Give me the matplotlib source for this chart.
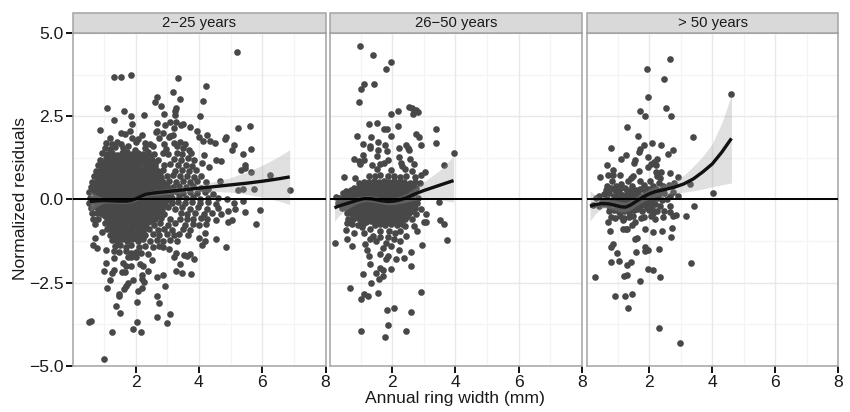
import matplotlib
matplotlib.use("Agg")
import matplotlib.pyplot as plt
from matplotlib.patches import Rectangle
import numpy as np

plt.rcParams["font.family"] = ["Liberation Sans", "DejaVu Sans"]

# ---------- Panel labels / ticks ----------
panel_titles = ["2\u221225 years", "26\u221250 years", "> 50 years"]
x_ticks = [2, 4, 6, 8]
x_minor = [1, 3, 5, 7]
y_ticks = [-5.0, -2.5, 0.0, 2.5, 5.0]
y_tick_labels = ["\u22125.0", "\u22122.5", "0.0", "2.5", "5.0"]
y_minor = [-3.75, -1.25, 1.25, 3.75]

# ---------- 2-25 years: points ----------
young_outer = [
    (5.21,4.45),(1.31,3.70),(1.54,3.68),(1.85,3.76),(3.35,3.67),(4.23,3.42),(3.19,3.24),(2.66,3.08),
    (3.41,3.03),(2.62,2.93),(4.14,2.97),(2.79,2.81),(1.08,2.76),(3.28,2.76),(1.63,2.66),(3.25,2.66),
    (2.90,2.58),(1.85,2.51),(2.25,2.54),(3.25,2.54),(4.02,2.50),(1.32,2.38),(1.89,2.28),(2.69,2.29),
    (3.09,2.34),(3.27,2.34),(2.93,2.24),(3.50,2.28),(3.44,2.24),(3.20,2.14),(3.72,2.17),(5.25,2.14),
    (5.62,2.20),(0.88,2.08),(1.83,2.06),(2.67,2.06),(2.63,2.02),(2.88,2.01),(3.95,2.06),(1.55,1.99),
    (1.66,1.97),(2.19,1.93),(3.09,1.91),(3.18,1.93),(3.04,1.87),(2.73,1.85),(4.26,1.93),(3.99,1.87),
    (4.84,1.88),(1.20,1.85),(1.88,1.85),(2.09,1.81),(4.13,1.77),(4.34,1.77),(4.50,1.71),(4.82,1.83),
    (5.11,1.64),(5.64,1.53),(5.05,1.49),(5.39,1.38),(4.17,1.33),(4.55,1.20),(4.70,1.16),(4.11,1.10),
    (4.33,0.98),(5.45,1.03),(5.47,0.95),(5.34,0.88),(5.66,0.82),(6.24,0.73),(4.65,0.55),(6.87,0.28),
    (5.75,0.32),(5.40,0.32),(5.24,0.28),(5.94,-0.33),(5.79,-0.74),(5.47,-0.37),(5.39,-0.05),(5.05,-0.63),
    (4.92,-0.68),(4.92,-0.35),(4.71,-0.45),(4.55,-0.62),(4.54,-1.18),(4.85,-1.43),(4.19,-1.02),(4.19,-1.24),
    (4.11,-1.38),(4.00,-1.17),(3.84,-1.78),(3.73,-1.63),(3.63,-1.71),(3.54,-1.67),(3.28,-1.61),(3.21,-1.73),
    (3.41,-1.95),(3.29,-2.14),(3.45,-2.22),(3.75,-2.25),(2.51,-1.83),(2.38,-1.63),(2.15,-1.94),(2.23,-2.01),
    (2.38,-2.16),(2.85,-2.27),(2.66,-2.32),(2.21,-2.26),(2.21,-2.39),(2.25,-2.47),(2.92,-2.61),(2.19,-2.67),
    (2.06,-2.74),(2.68,-2.91),(2.73,-3.12),(2.04,-3.09),(3.10,-3.44),(2.66,-3.55),(2.98,-3.72),(2.03,-3.68),
    (1.93,-3.91),(2.18,-3.98),(1.51,-3.42),(1.38,-3.22),(1.25,-4.00),(1.00,-4.79),(0.52,-3.68),(0.59,-3.67),
    (1.48,-2.84),(1.48,-2.91),(1.11,-2.67),(1.19,-2.41),(1.00,-2.16),(1.24,-2.21),(1.30,-2.11),(1.07,-1.90),
    (1.59,-1.91),(1.91,-2.42),(1.75,-2.51),(1.68,-2.59),(1.62,-2.69),(1.57,-2.17),(1.67,-2.19),(1.84,-1.99),
    (1.70,-2.01),(1.33,-1.76),(0.65,-1.38),(0.78,-1.45),(0.73,-1.15),(1.07,-1.53),(0.94,-0.97),
    (1.05,1.70),(1.25,1.68),(1.40,1.72),(1.55,1.68),(2.00,1.72),(2.30,1.70),(2.45,1.66),(2.90,1.66),(3.20,1.70),(3.40,1.72),(3.55,1.68),
]
young_core = [
    (1.02,1.56),(1.18,1.52),(1.35,1.58),(1.60,1.54),(1.77,1.60),(1.98,1.50),(2.30,1.55),(2.55,1.60),(2.95,1.52),(3.30,1.60),(3.50,1.55),(3.70,1.50),
    (0.93,1.40),(1.08,1.36),(1.25,1.41),(1.42,1.35),(1.58,1.39),(1.74,1.42),(1.90,1.36),(2.07,1.40),(2.24,1.37),(2.40,1.42),(2.58,1.38),(2.87,1.40),(3.03,1.36),(3.30,1.40),(3.48,1.36),(3.75,1.40),
    (0.88,1.20),(1.05,1.24),(1.20,1.20),(1.38,1.25),(1.54,1.20),(1.70,1.23),(1.87,1.20),(2.03,1.25),(2.20,1.20),(2.37,1.24),(2.53,1.20),(2.72,1.18),(3.20,1.22),(3.42,1.20),(3.65,1.24),(3.85,1.20),
    (0.82,1.05),(0.98,1.08),(1.14,1.04),(1.30,1.08),(1.46,1.04),(1.63,1.07),(1.79,1.03),(1.95,1.08),(2.12,1.04),(2.28,1.07),(2.45,1.03),(2.62,1.06),(2.90,1.03),(3.10,1.08),(3.35,1.03),(3.58,1.05),(3.78,1.02),
    (0.74,0.86),(0.90,0.90),(1.07,0.87),(1.23,0.91),(1.39,0.87),(1.55,0.90),(1.71,0.86),(1.88,0.90),(2.04,0.87),(2.20,0.90),(2.36,0.86),(2.52,0.90),(2.70,0.86),(2.86,0.90),(3.25,0.87),(3.47,0.90),(3.70,0.86),(3.92,0.88),
    (0.68,0.70),(0.84,0.74),(1.00,0.70),(1.16,0.73),(1.32,0.70),(1.48,0.74),(1.64,0.70),(1.80,0.73),(1.96,0.70),(2.12,0.74),(2.28,0.70),(2.44,0.73),(2.60,0.70),(2.78,0.74),(2.98,0.70),(3.18,0.73),(3.40,0.70),(3.62,0.72),(3.85,0.69),(4.05,0.72),
    (0.62,0.54),(0.78,0.57),(0.94,0.53),(1.10,0.57),(1.26,0.54),(1.42,0.57),(1.58,0.53),(1.74,0.57),(1.90,0.53),(2.06,0.57),(2.22,0.54),(2.38,0.57),(2.54,0.53),(2.70,0.57),(2.86,0.53),(3.05,0.57),(3.28,0.53),(3.50,0.56),(3.72,0.53),(3.95,0.55),(4.22,0.52),
    (0.58,0.38),(0.74,0.41),(0.90,0.37),(1.06,0.41),(1.22,0.38),(1.38,0.41),(1.54,0.37),(1.70,0.41),(1.86,0.37),(2.02,0.41),(2.18,0.38),(2.34,0.41),(2.50,0.37),(2.66,0.41),(2.82,0.37),(3.00,0.41),(3.18,0.37),(3.38,0.40),(3.60,0.37),(3.82,0.40),(4.05,0.36),(4.30,0.33),
    (0.53,0.22),(0.68,0.24),(0.84,0.20),(1.00,0.24),(1.16,0.21),(1.32,0.24),(1.48,0.20),(1.64,0.24),(1.80,0.20),(1.96,0.24),(2.12,0.21),(2.28,0.24),(2.44,0.20),(2.60,0.24),(2.76,0.20),(2.94,0.24),(3.12,0.20),(3.30,0.23),(3.50,0.20),(3.72,0.24),(3.95,0.20),(4.18,0.24),(4.45,0.18),
    (0.55,0.06),(0.72,0.08),(0.88,0.04),(1.04,0.08),(1.20,0.05),(1.36,0.08),(1.52,0.04),(1.68,0.08),(1.84,0.04),(2.00,0.08),(2.16,0.05),(2.32,0.08),(2.48,0.04),(2.64,0.08),(2.80,0.04),(2.98,0.08),(3.16,0.04),(3.36,0.07),(3.58,0.04),(3.80,0.08),(4.04,0.03),(4.30,0.06),(4.60,0.05),(4.90,0.02),
    (0.52,-0.10),(0.68,-0.08),(0.84,-0.12),(1.00,-0.08),(1.16,-0.11),(1.32,-0.08),(1.48,-0.12),(1.64,-0.08),(1.80,-0.12),(1.96,-0.08),(2.12,-0.11),(2.28,-0.08),(2.44,-0.12),(2.60,-0.08),(2.76,-0.12),(2.94,-0.08),(3.14,-0.12),(3.34,-0.08),(3.55,-0.12),(3.78,-0.08),(4.02,-0.12),(4.28,-0.09),(4.55,-0.13),(5.10,-0.12),
    (0.58,-0.26),(0.74,-0.24),(0.90,-0.28),(1.06,-0.24),(1.22,-0.27),(1.38,-0.24),(1.54,-0.28),(1.70,-0.24),(1.86,-0.28),(2.02,-0.24),(2.18,-0.27),(2.34,-0.24),(2.50,-0.28),(2.66,-0.24),(2.82,-0.28),(3.02,-0.24),(3.24,-0.28),(3.48,-0.24),(3.72,-0.28),(3.98,-0.24),(4.25,-0.28),(4.60,-0.25),(5.15,-0.28),
    (0.62,-0.42),(0.78,-0.40),(0.94,-0.44),(1.10,-0.40),(1.26,-0.43),(1.42,-0.40),(1.58,-0.44),(1.74,-0.40),(1.90,-0.44),(2.06,-0.40),(2.22,-0.43),(2.38,-0.40),(2.54,-0.44),(2.70,-0.40),(2.90,-0.44),(3.42,-0.42),(3.62,-0.44),(3.88,-0.40),(4.15,-0.44),(4.40,-0.42),
    (0.65,-0.58),(0.82,-0.60),(1.14,-0.58),(1.30,-0.60),(1.46,-0.56),(1.62,-0.60),(1.78,-0.56),(1.94,-0.60),(2.10,-0.56),(2.26,-0.60),(2.42,-0.56),(2.60,-0.60),(2.80,-0.56),(3.10,-0.60),(3.40,-0.60),(3.62,-0.58),(3.80,-0.60),(4.05,-0.56),(4.25,-0.60),
    (0.72,-0.74),(1.03,-0.72),(1.20,-0.76),(1.36,-0.72),(1.52,-0.76),(1.68,-0.72),(1.84,-0.76),(2.00,-0.72),(2.16,-0.76),(2.32,-0.72),(2.58,-0.76),(2.78,-0.72),(3.02,-0.76),(3.25,-0.72),(3.55,-0.76),(3.80,-0.74),(4.00,-0.76),(4.22,-0.74),
    (1.10,-0.90),(1.26,-0.92),(1.42,-0.88),(1.58,-0.92),(1.74,-0.88),(1.90,-0.92),(2.06,-0.88),(2.22,-0.92),(2.42,-0.88),(2.70,-0.92),(2.90,-0.88),(3.15,-0.92),(3.50,-0.90),(3.72,-0.92),
    (1.18,-1.06),(1.34,-1.08),(1.50,-1.04),(1.66,-1.08),(1.82,-1.04),(1.98,-1.08),(2.14,-1.04),(2.30,-1.08),(2.55,-1.04),(2.75,-1.08),(3.00,-1.04),(3.20,-1.08),(3.38,-1.04),(3.65,-1.06),
    (1.26,-1.22),(1.42,-1.24),(1.58,-1.20),(1.74,-1.24),(1.90,-1.20),(2.06,-1.24),(2.22,-1.20),(2.46,-1.24),(2.68,-1.22),(2.88,-1.26),(3.10,-1.22),(3.32,-1.26),
    (1.36,-1.40),(1.52,-1.38),(1.68,-1.42),(1.84,-1.38),(2.10,-1.42),(2.30,-1.40),(2.56,-1.44),(2.74,-1.40),(2.88,-1.44),(3.05,-1.50),
    (1.30,-1.56),(1.48,-1.58),(1.70,-1.56),(1.86,-1.60),(2.00,-1.58),(2.16,-1.60),(1.75,-1.74),(1.86,-1.72),(2.02,-1.74),
]
# the solid middle of the cloud, where single dots cannot be told apart
young_dense = [
    (1.12,1.30),(1.30,1.32),(1.48,1.29),(1.64,1.31),(1.82,1.29),(1.98,1.32),(2.14,1.29),(2.30,1.31),(2.46,1.30),
    (1.02,1.14),(1.12,1.13),(1.28,1.15),(1.46,1.12),(1.62,1.15),(1.78,1.12),(1.94,1.15),(2.10,1.12),(2.28,1.15),(2.44,1.12),(2.60,1.14),
    (0.98,0.98),(1.15,0.96),(1.32,0.98),(1.48,0.96),(1.64,0.98),(1.80,0.96),(1.96,0.98),(2.12,0.96),(2.28,0.98),(2.44,0.96),(2.60,0.98),
    (0.92,0.80),(1.08,0.79),(1.24,0.81),(1.40,0.79),(1.56,0.81),(1.72,0.79),(1.88,0.81),(2.04,0.79),(2.20,0.81),(2.36,0.79),(2.52,0.81),(2.70,0.79),
    (0.86,0.63),(1.02,0.62),(1.18,0.64),(1.34,0.62),(1.50,0.64),(1.66,0.62),(1.82,0.64),(1.98,0.62),(2.14,0.64),(2.30,0.62),(2.46,0.64),(2.62,0.62),(2.80,0.64),
    (0.82,0.46),(0.98,0.45),(1.14,0.47),(1.30,0.45),(1.46,0.47),(1.62,0.45),(1.78,0.47),(1.94,0.45),(2.10,0.47),(2.26,0.45),(2.42,0.47),(2.58,0.45),(2.76,0.47),(2.94,0.45),
    (0.76,0.30),(0.92,0.29),(1.08,0.31),(1.24,0.29),(1.40,0.31),(1.56,0.29),(1.72,0.31),(1.88,0.29),(2.04,0.31),(2.20,0.29),(2.36,0.31),(2.52,0.29),(2.68,0.31),(2.86,0.29),(3.06,0.31),
    (0.76,0.14),(0.92,0.13),(1.08,0.15),(1.24,0.13),(1.40,0.15),(1.56,0.13),(1.72,0.15),(1.88,0.13),(2.04,0.15),(2.20,0.13),(2.36,0.15),(2.52,0.13),(2.68,0.15),(2.86,0.13),(3.06,0.15),
    (0.78,-0.02),(0.94,-0.01),(1.10,-0.03),(1.26,-0.01),(1.42,-0.03),(1.58,-0.01),(1.74,-0.03),(1.90,-0.01),(2.06,-0.03),(2.22,-0.01),(2.38,-0.03),(2.54,-0.01),(2.70,-0.03),(2.88,-0.01),(3.08,-0.03),
    (0.82,-0.18),(0.98,-0.17),(1.14,-0.19),(1.30,-0.17),(1.46,-0.19),(1.62,-0.17),(1.78,-0.19),(1.94,-0.17),(2.10,-0.19),(2.26,-0.17),(2.42,-0.19),(2.58,-0.17),(2.74,-0.19),(2.92,-0.17),
    (0.86,-0.34),(1.02,-0.33),(1.18,-0.35),(1.34,-0.33),(1.50,-0.35),(1.66,-0.33),(1.82,-0.35),(1.98,-0.33),(2.14,-0.35),(2.30,-0.33),(2.46,-0.35),(2.62,-0.33),(2.80,-0.35),
    (1.04,-0.50),(1.20,-0.49),(1.36,-0.51),(1.52,-0.49),(1.68,-0.51),(1.84,-0.49),(2.00,-0.51),(2.16,-0.49),(2.32,-0.51),(2.48,-0.49),(2.64,-0.51),
    (1.10,-0.66),(1.26,-0.65),(1.42,-0.67),(1.58,-0.65),(1.74,-0.67),(1.90,-0.65),(2.06,-0.67),(2.22,-0.65),(2.38,-0.67),(2.52,-0.66),
    (1.18,-0.82),(1.34,-0.81),(1.50,-0.83),(1.66,-0.81),(1.82,-0.83),(1.98,-0.81),(2.14,-0.83),(2.30,-0.81),
    (1.26,-0.98),(1.42,-0.97),(1.58,-0.99),(1.74,-0.97),(1.90,-0.99),(2.06,-0.97),(2.22,-0.99),
    (1.34,-1.14),(1.50,-1.13),(1.66,-1.15),(1.82,-1.13),(1.98,-1.15),(2.14,-1.13),
]

# ---------- 26-50 years ----------
mid_outer = [
    (0.97,4.63),(1.39,4.35),(1.95,4.13),(1.80,3.92),(1.11,3.47),(1.42,3.49),(1.01,3.33),(0.96,2.94),
    (2.53,2.79),(2.62,2.74),(2.76,2.69),(2.82,2.63),(2.70,2.64),(2.65,2.56),(2.19,2.66),(1.97,2.56),
    (1.26,2.27),(1.51,2.29),(2.19,2.20),(1.74,2.13),(1.82,2.12),(3.38,2.13),(0.87,1.92),(1.34,1.88),
    (1.97,1.90),(2.75,1.96),(2.84,1.89),(1.06,1.68),(1.56,1.72),(3.38,1.70),(1.77,1.65),(2.91,1.65),
    (2.45,1.65),(1.31,1.60),(1.28,1.54),(2.21,1.56),(2.50,1.56),(2.52,1.49),(1.56,1.50),(1.82,1.47),
    (3.94,1.39),(1.52,1.30),(1.06,1.35),(2.20,1.27),(0.80,1.21),(0.95,1.16),(1.12,1.18),(0.97,1.08),
    (2.55,1.23),(1.86,1.19),(2.27,1.11),(3.63,1.05),(2.69,1.06),(1.37,1.03),(1.60,1.08),(1.74,1.10),
    (2.31,1.00),(1.52,0.92),(2.39,0.92),(2.62,0.87),(1.95,0.88),(0.48,0.69),(0.83,0.64),(3.03,0.82),
    (2.92,0.75),(0.53,0.27),(0.22,0.08),(3.49,-0.08),(3.50,-0.61),(3.65,-0.74),(3.72,-1.23),(2.95,-1.36),
    (0.20,-1.30),(0.74,-1.40),(0.58,-1.19),(3.08,-0.45),(2.99,-0.68),(3.08,-0.67),(2.90,-0.30),(2.79,-0.94),
    (2.69,-0.80),(2.43,-1.10),(2.59,-1.57),(2.37,-1.77),(2.59,-2.01),(1.95,-2.08),(2.11,-1.78),(1.88,-1.71),
    (1.79,-1.79),(1.61,-1.64),(1.27,-1.71),(1.31,-1.93),(1.08,-2.23),(1.50,-2.21),(1.61,-2.06),(1.70,-2.11),
    (1.70,-2.30),(1.58,-2.40),(1.34,-2.50),(0.67,-2.66),(1.11,-2.85),(1.23,-2.90),(1.02,-3.01),(1.56,-2.82),
    (2.90,-2.79),(2.05,-3.28),(1.84,-3.34),(2.59,-3.40),(1.85,-3.78),(1.02,-3.96),(2.42,-3.97),(1.77,-4.14),
    (0.53,-0.92),(0.80,-1.00),(1.12,-1.00),(1.14,-1.33),(1.21,-1.51),(1.49,-1.26),(1.70,-1.46),(1.97,-1.41),
    (2.20,-1.51),(2.26,-1.26),(2.23,-0.95),(0.57,-0.70),(1.40,-1.10),(1.60,-1.12),(1.85,-1.14),(2.05,-1.18),
    (1.30,-1.20),(1.80,-1.30),(2.10,-1.00),(1.05,-0.82),(1.28,-0.90),(1.62,-0.94),(1.90,-0.96),(2.40,-0.80),
]
mid_core = [
    (1.25,0.72),(1.45,0.70),(1.62,0.74),(1.85,0.70),(2.05,0.72),(2.25,0.68),(2.45,0.72),(2.72,0.68),
    (0.95,0.50),(1.10,0.54),(1.26,0.52),(1.42,0.56),(1.58,0.52),(1.74,0.56),(1.90,0.52),(2.06,0.56),(2.22,0.52),(2.38,0.54),(2.55,0.50),(2.72,0.54),(2.88,0.50),
    (0.78,0.36),(0.94,0.38),(1.10,0.36),(1.26,0.38),(1.42,0.35),(1.58,0.39),(1.74,0.35),(1.90,0.38),(2.06,0.35),(2.22,0.38),(2.38,0.35),(2.54,0.38),(2.74,0.35),
    (0.45,0.20),(0.60,0.22),(0.76,0.19),(0.92,0.22),(1.08,0.19),(1.24,0.22),(1.40,0.19),(1.56,0.22),(1.72,0.19),(1.88,0.22),(2.04,0.19),(2.20,0.22),(2.36,0.19),(2.52,0.22),(2.70,0.19),
    (0.30,0.04),(0.46,0.06),(0.62,0.03),(0.78,0.06),(0.94,0.03),(1.10,0.06),(1.26,0.03),(1.42,0.06),(1.58,0.03),(1.74,0.06),(1.90,0.03),(2.06,0.06),(2.22,0.03),(2.38,0.06),(2.58,0.03),(2.80,0.06),
    (0.28,-0.12),(0.44,-0.10),(0.60,-0.13),(0.76,-0.10),(0.92,-0.13),(1.08,-0.10),(1.24,-0.13),(1.40,-0.10),(1.56,-0.13),(1.72,-0.10),(1.88,-0.13),(2.04,-0.10),(2.20,-0.13),(2.36,-0.10),(2.55,-0.13),(2.78,-0.10),
    (0.42,-0.26),(0.58,-0.28),(0.74,-0.25),(0.90,-0.28),(1.06,-0.25),(1.22,-0.28),(1.38,-0.25),(1.54,-0.28),(1.70,-0.25),(1.86,-0.28),(2.02,-0.25),(2.18,-0.28),(2.34,-0.25),(2.50,-0.28),(2.72,-0.25),
    (0.58,-0.42),(0.74,-0.44),(0.90,-0.41),(1.06,-0.44),(1.22,-0.41),(1.38,-0.44),(1.54,-0.41),(1.70,-0.44),(1.86,-0.41),(2.02,-0.44),(2.18,-0.41),(2.34,-0.44),(2.52,-0.41),(2.74,-0.44),
    (0.60,-0.58),(0.76,-0.60),(0.92,-0.57),(1.08,-0.60),(1.24,-0.57),(1.40,-0.60),(1.56,-0.57),(1.72,-0.60),(1.88,-0.57),(2.04,-0.60),(2.20,-0.57),(2.40,-0.60),(2.62,-0.58),
    (0.72,-0.74),(0.90,-0.76),(1.08,-0.74),(1.44,-0.76),(1.60,-0.73),(1.78,-0.76),(1.96,-0.74),(2.16,-0.76),(2.32,-0.73),
]
mid_dense = [
    (1.02,0.44),(1.18,0.45),(1.34,0.43),(1.50,0.45),(1.66,0.43),(1.82,0.45),(1.98,0.43),(2.14,0.45),(2.30,0.43),(2.46,0.45),(2.62,0.44),
    (0.70,0.28),(0.86,0.29),(1.02,0.27),(1.18,0.29),(1.34,0.27),(1.50,0.29),(1.66,0.27),(1.82,0.29),(1.98,0.27),(2.14,0.29),(2.30,0.27),(2.46,0.29),(2.62,0.27),
    (0.52,0.12),(0.68,0.13),(0.84,0.11),(1.00,0.13),(1.16,0.11),(1.32,0.13),(1.48,0.11),(1.64,0.13),(1.80,0.11),(1.96,0.13),(2.12,0.11),(2.28,0.13),(2.44,0.11),(2.62,0.13),
    (0.38,-0.04),(0.54,-0.03),(0.70,-0.05),(0.86,-0.03),(1.02,-0.05),(1.18,-0.03),(1.34,-0.05),(1.50,-0.03),(1.66,-0.05),(1.82,-0.03),(1.98,-0.05),(2.14,-0.03),(2.30,-0.05),(2.46,-0.03),(2.66,-0.05),
    (0.52,-0.20),(0.68,-0.19),(0.84,-0.21),(1.00,-0.19),(1.16,-0.21),(1.32,-0.19),(1.48,-0.21),(1.64,-0.19),(1.80,-0.21),(1.96,-0.19),(2.12,-0.21),(2.28,-0.19),(2.44,-0.21),(2.62,-0.19),
    (0.66,-0.35),(0.82,-0.34),(0.98,-0.36),(1.14,-0.34),(1.30,-0.36),(1.46,-0.34),(1.62,-0.36),(1.78,-0.34),(1.94,-0.36),(2.10,-0.34),(2.26,-0.36),(2.42,-0.34),(2.62,-0.36),
    (0.84,-0.50),(1.00,-0.51),(1.16,-0.49),(1.32,-0.51),(1.48,-0.49),(1.64,-0.51),(1.80,-0.49),(1.96,-0.51),(2.12,-0.49),(2.28,-0.51),(2.46,-0.49),
    (1.00,-0.66),(1.16,-0.67),(1.32,-0.65),(1.48,-0.67),(1.64,-0.65),(1.80,-0.67),(1.96,-0.65),(2.12,-0.67),(2.28,-0.65),
]

# ---------- > 50 years ----------
old_outer = [
    (2.67,4.24),(1.94,3.94),(2.47,3.62),(1.97,3.08),(4.61,3.17),(2.53,2.75),(1.71,2.65),(1.87,2.52),
    (2.69,2.50),(1.29,2.18),(1.66,1.91),(3.39,1.88),(2.10,1.71),(1.84,1.63),(2.36,1.63),(0.78,1.54),
    (1.70,1.53),(1.67,1.43),(2.74,1.50),(2.59,1.36),(1.25,1.34),(1.11,1.21),(1.97,1.29),(2.26,1.22),
    (1.54,1.18),(1.52,1.09),(2.15,1.12),(0.65,1.03),(2.05,1.08),(2.22,1.05),(1.95,0.98),(0.86,0.89),
    (1.68,0.86),(0.68,0.75),(0.43,0.69),(1.07,0.74),(2.22,0.82),(2.38,0.84),(2.65,0.79),(2.26,0.72),
    (1.49,0.70),(1.41,0.65),(0.86,0.73),(0.83,0.55),(2.90,0.67),(2.34,0.65),(1.33,0.55),(1.70,0.55),
    (2.04,0.55),(0.65,0.40),(3.29,0.47),(4.03,0.19),(3.43,-0.20),(2.90,0.10),(3.17,-0.50),(2.85,-0.47),
    (2.74,-0.50),(2.66,-0.37),(2.65,-0.20),(2.47,-0.35),(2.45,-0.52),(2.72,-0.86),(2.70,-1.12),(2.40,-0.95),
    (2.13,-0.98),(1.87,-0.90),(2.32,-1.48),(3.32,-1.91),(1.87,-1.44),(1.97,-1.53),(1.88,-1.56),(1.58,-1.58),
    (1.54,-1.18),(1.60,-1.17),(1.26,-0.90),(1.17,-0.90),(1.31,-0.89),(0.75,-0.96),(0.69,-0.68),(1.17,-0.63),
    (1.44,-0.77),(1.54,-0.68),(1.74,-0.57),(1.83,-0.54),(0.86,-1.34),(0.79,-1.44),(0.98,-1.60),(0.78,-1.88),
    (1.05,-1.85),(1.28,-1.96),(1.41,-1.88),(1.95,-2.08),(2.12,-2.12),(2.33,-2.32),(1.21,-2.30),(1.31,-2.27),
    (1.71,-2.46),(0.29,-2.34),(0.90,-2.90),(1.24,-2.90),(1.47,-2.85),(1.32,-3.28),(2.31,-3.87),(2.97,-4.31),
]
old_core = [
    (0.62,0.30),(0.78,0.36),(0.95,0.42),(1.12,0.48),(1.22,0.34),(1.46,0.42),(1.58,0.30),(1.82,0.44),(1.95,0.33),(2.12,0.42),(2.30,0.50),(2.45,0.40),(2.62,0.44),(2.80,0.50),
    (0.42,0.12),(0.58,0.16),(0.72,0.20),(0.88,0.12),(1.03,0.24),(1.18,0.15),(1.34,0.20),(1.50,0.14),(1.66,0.22),(1.80,0.12),(1.98,0.18),(2.14,0.24),(2.30,0.16),(2.48,0.20),(2.66,0.10),(2.76,0.24),
    (0.30,0.04),(0.50,-0.04),(0.66,0.02),(0.80,-0.05),(0.98,0.03),(1.14,-0.04),(1.30,0.02),(1.46,-0.05),(1.62,0.03),(1.78,-0.03),(1.94,0.02),(2.10,-0.04),(2.26,0.04),(2.42,-0.02),(2.58,0.02),
    (0.22,-0.16),(0.40,-0.20),(0.56,-0.14),(0.72,-0.20),(0.90,-0.15),(1.06,-0.20),(1.22,-0.16),(1.38,-0.20),(1.54,-0.14),(1.70,-0.20),(1.86,-0.16),(2.02,-0.22),(2.18,-0.14),(2.34,-0.20),
    (0.72,-0.36),(0.88,-0.32),(1.04,-0.38),(1.20,-0.34),(1.36,-0.38),(1.52,-0.32),(1.78,-0.36),(1.98,-0.33),(2.12,-0.40),(2.26,-0.34),
    (0.78,-0.52),(0.92,-0.55),(1.06,-0.50),(1.20,-0.56),(1.36,-0.52),(1.50,-0.50),(2.05,-0.50),(2.18,-0.58),
]
old_dense = [
    (0.90,0.30),(1.06,0.34),(1.30,0.30),(1.42,0.28),(1.72,0.33),(1.88,0.27),(2.04,0.30),(2.22,0.32),(2.38,0.28),
    (0.96,0.12),(1.10,0.08),(1.26,0.10),(1.42,0.07),(1.58,0.10),(1.74,0.06),(1.90,0.10),(2.06,0.08),(2.22,0.10),
    (0.88,-0.10),(1.02,-0.11),(1.20,-0.08),(1.36,-0.11),(1.54,-0.06),(1.70,-0.09),(1.86,-0.06),(2.02,-0.12),
    (0.96,-0.26),(1.12,-0.28),(1.28,-0.26),(1.46,-0.28),(1.62,-0.28),(1.94,-0.26),(2.10,-0.28),
]

# ---------- Smooth fits ----------
young_fit_x = [0.55, 0.8, 1.0, 1.25, 1.5, 1.7, 1.85, 2.0, 2.15, 2.33, 2.6, 3.0, 3.5, 4.0, 4.5, 5.0, 5.5, 6.0, 6.5, 6.87]
young_fit_y = [-0.06, -0.04, -0.03, -0.04, -0.05, -0.05, -0.03, 0.02, 0.09, 0.16, 0.20, 0.24, 0.29, 0.34, 0.39, 0.44, 0.49, 0.55, 0.62, 0.68]
young_hi = [0.25, 0.12, 0.05, 0.03, 0.02, 0.02, 0.04, 0.09, 0.16, 0.23, 0.28, 0.33, 0.39, 0.46, 0.54, 0.66, 0.82, 1.03, 1.28, 1.50]
young_lo = [-0.38, -0.20, -0.11, -0.11, -0.12, -0.12, -0.10, -0.05, 0.02, 0.09, 0.12, 0.15, 0.19, 0.22, 0.24, 0.22, 0.16, 0.07, -0.04, -0.15]

mid_fit_x = [0.17, 0.3, 0.5, 0.7, 0.9, 1.12, 1.35, 1.6, 1.85, 2.05, 2.25, 2.45, 2.7, 3.0, 3.25, 3.5, 3.75, 3.94]
mid_fit_y = [-0.25, -0.20, -0.14, -0.08, -0.02, 0.03, 0.02, -0.03, -0.06, -0.05, -0.01, 0.05, 0.16, 0.27, 0.35, 0.43, 0.51, 0.57]
mid_hi = [0.08, 0.07, 0.05, 0.05, 0.08, 0.12, 0.11, 0.06, 0.03, 0.05, 0.10, 0.18, 0.34, 0.53, 0.70, 0.88, 1.12, 1.30]
mid_lo = [-0.65, -0.50, -0.34, -0.22, -0.12, -0.06, -0.07, -0.12, -0.16, -0.15, -0.12, -0.08, -0.02, 0.02, 0.02, 0.00, -0.05, -0.08]

old_fit_x = [0.12, 0.3, 0.5, 0.7, 0.9, 1.1, 1.25, 1.4, 1.6, 1.8, 2.0, 2.2, 2.5, 2.8, 3.1, 3.4, 3.7, 4.0, 4.3, 4.61]
old_fit_y = [-0.20, -0.15, -0.12, -0.13, -0.17, -0.22, -0.23, -0.17, -0.05, 0.07, 0.17, 0.24, 0.30, 0.37, 0.47, 0.62, 0.83, 1.07, 1.42, 1.84]
old_hi = [0.27, 0.12, 0.03, 0.00, -0.02, -0.06, -0.08, -0.02, 0.09, 0.21, 0.32, 0.40, 0.47, 0.56, 0.73, 1.00, 1.30, 1.68, 2.30, 3.15]
old_lo = [-0.65, -0.42, -0.27, -0.26, -0.32, -0.38, -0.38, -0.32, -0.19, -0.07, 0.02, 0.08, 0.13, 0.18, 0.22, 0.26, 0.32, 0.38, 0.44, 0.50]

panels = [
    (young_outer + young_core + young_dense, young_fit_x, young_fit_y, young_hi, young_lo),
    (mid_outer + mid_core + mid_dense, mid_fit_x, mid_fit_y, mid_hi, mid_lo),
    (old_outer + old_core + old_dense, old_fit_x, old_fit_y, old_hi, old_lo),
]

# ---------- Plot ----------
W, H = 850, 412
fig = plt.figure(figsize=(W / 100, H / 100), dpi=100)
# panel edges in pixels
lefts = [73.0, 329.7, 586.8]
rights = [325.5, 581.8, 838.3]
top_px, bottom_px = 33.4, 365.6
strip_top = 12.7

BORDER = "#a3a3a3"
TEXT = "#1a1a1a"
for i, (pts, fx, fy, hi, lo) in enumerate(panels):
    ax = fig.add_axes([lefts[i] / W, 1 - bottom_px / H, (rights[i] - lefts[i]) / W, (bottom_px - top_px) / H])
    ax.set_xlim(0.02, 8)
    ax.set_ylim(-5, 5)
    ax.set_axisbelow(True)
    for v in x_minor:
        ax.axvline(v, color="#f4f4f4", lw=0.9, zorder=0)
    for v in y_minor:
        ax.axhline(v, color="#f4f4f4", lw=0.9, zorder=0)
    for v in x_ticks:
        ax.axvline(v, color="#e8e8e8", lw=1.0, zorder=0.5)
    for v in y_ticks:
        ax.axhline(v, color="#e8e8e8", lw=1.0, zorder=0.5)

    pts = np.array(pts)
    ax.scatter(pts[:, 0], pts[:, 1], s=23, color="#484848", linewidths=0, zorder=2)
    ax.fill_between(fx, lo, hi, color="#999999", alpha=0.3, linewidth=0, zorder=3)
    ax.plot(fx, fy, color="#111111", lw=2.4, solid_capstyle="butt", solid_joinstyle="round", zorder=4)
    ax.axhline(0, color="#000000", lw=1.4, zorder=5)

    ax.set_xticks(x_ticks)
    ax.tick_params(axis="x", length=5, width=1.3, color="black", labelsize=12.6, pad=2, labelcolor=TEXT)
    if i == 0:
        ax.set_yticks(y_ticks)
        ax.set_yticklabels(y_tick_labels)
        ax.tick_params(axis="y", length=5, width=1.3, color="black", labelsize=12.6, pad=2, labelcolor=TEXT)
    else:
        ax.set_yticks([])
    for sp in ax.spines.values():
        sp.set_color(BORDER)
        sp.set_linewidth(1.1)

    # strip on top of the panel
    strip = Rectangle((lefts[i] / W, 1 - top_px / H), (rights[i] - lefts[i]) / W, (top_px - strip_top) / H,
                      transform=fig.transFigure, facecolor="#d9d9d9", edgecolor=BORDER, linewidth=1.1)
    fig.add_artist(strip)
    fig.text((lefts[i] + rights[i]) / 2 / W, 1 - 23.3 / H, panel_titles[i], ha="center", va="center",
             fontsize=10.7, color=TEXT)

fig.text(455 / W, 1 - 398 / H, "Annual ring width (mm)", ha="center", va="center", fontsize=12.6, color=TEXT)
fig.text(21 / W, 1 - 199 / H, "Normalized residuals", rotation=90, ha="center", va="center", fontsize=12.6, color=TEXT)

fig.savefig("out.png", dpi=100)
